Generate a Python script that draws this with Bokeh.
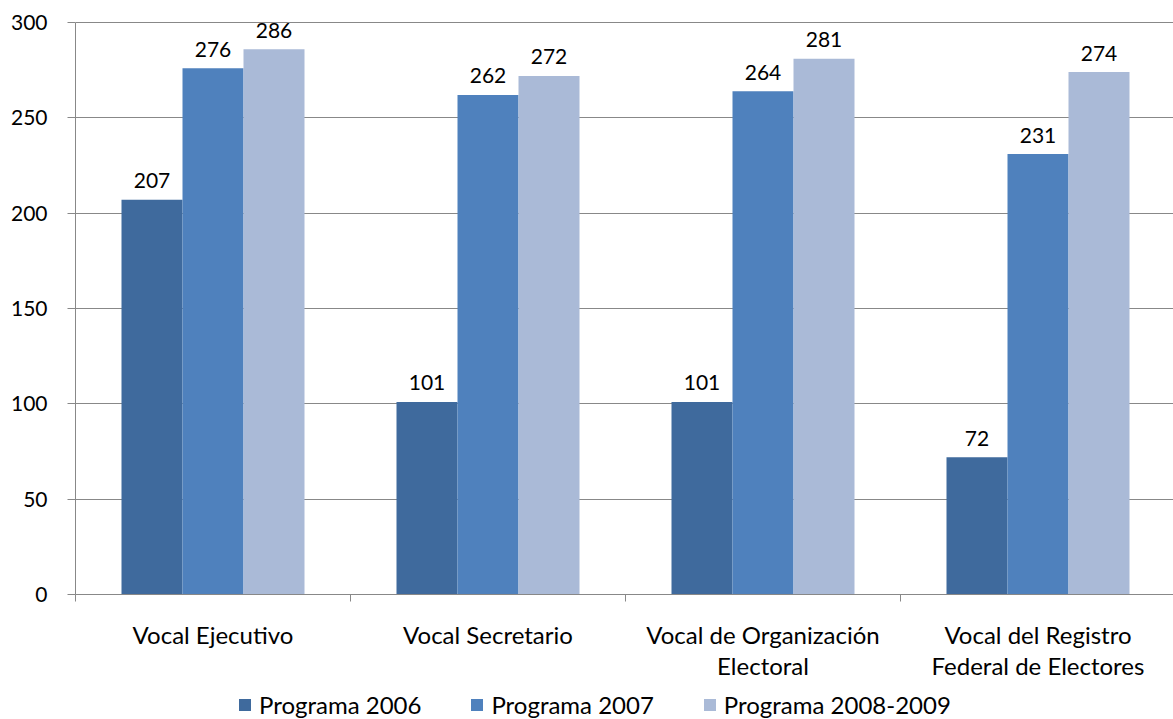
import numpy as np
from bokeh.plotting import figure
from bokeh.layouts import column
from bokeh.models import (ColumnDataSource, Range1d, FixedTicker, Legend, LegendItem,
                          LinearAxis)
from bokeh.core.properties import value
from bokeh.embed import file_html
from bokeh.resources import INLINE

categories = ["Vocal Ejecutivo", "Vocal Secretario",
              "Vocal de Organización\nElectoral", "Vocal del Registro\nFederal de Electores"]
series_names = ["Programa 2006", "Programa 2007", "Programa 2008-2009"]
p2006 = [207, 101, 101, 72]
p2007 = [276, 262, 264, 231]
p2008 = [286, 272, 281, 274]
y_ticks = [0, 50, 100, 150, 200, 250, 300]

colors = ["#3F6A9D", "#4F81BD", "#AABAD7"]
FONT = "Lato"
GRAY = "#888888"

W = 1173
H1 = 690
H2 = 29

p = figure(width=W, height=H1, output_backend="svg", toolbar_location=None,
           x_range=Range1d(0, 1098 / 275), y_range=Range1d(0, 305.77),
           min_border_left=75, min_border_right=0, min_border_top=11, min_border_bottom=H1 - 594,
           x_axis_location=None, y_axis_location=None)
p.outline_line_color = None
p.xgrid.visible = False

# y axis
yaxis = LinearAxis(ticker=FixedTicker(ticks=y_ticks), bounds=(0, 300))
yaxis.axis_line_color = GRAY
yaxis.major_tick_line_color = GRAY
yaxis.major_tick_out = 8
yaxis.major_tick_in = 0
yaxis.minor_tick_line_color = None
yaxis.major_label_text_font = FONT
yaxis.major_label_text_font_size = "21px"
yaxis.major_label_text_color = "#000000"
yaxis.major_label_standoff = 20
p.add_layout(yaxis, "left")

# x axis: category labels at centres, tick marks at category boundaries
idx = np.arange(len(categories))
centers = idx + 0.5
xaxis = LinearAxis(ticker=FixedTicker(ticks=list(centers),
                                      minor_ticks=list(np.arange(len(categories) + 1))))
xaxis.major_label_overrides = {float(c): lab for c, lab in zip(centers, categories)}
xaxis.axis_line_color = GRAY
xaxis.major_tick_line_color = None
xaxis.minor_tick_line_color = GRAY
xaxis.minor_tick_out = 7
xaxis.minor_tick_in = 0
xaxis.major_label_text_font = FONT
xaxis.major_label_text_font_size = "24px"
xaxis.major_label_text_color = "#000000"
xaxis.major_label_text_line_height = 1.1
xaxis.major_label_standoff = 18
p.add_layout(xaxis, "below")

p.ygrid.ticker = FixedTicker(ticks=y_ticks)
p.ygrid.grid_line_color = GRAY
p.ygrid.grid_line_width = 1

bw = 61 / 275
for k, (vals, col) in enumerate(zip([p2006, p2007, p2008], colors)):
    xs = centers + (k - 1) * bw
    src = ColumnDataSource(dict(x=xs, top=vals, lab=[str(v) for v in vals]))
    p.vbar(x="x", top="top", width=bw, bottom=0, source=src,
           fill_color=col, line_color=None)
    p.text(x="x", y="top", text="lab", source=src, text_align="center",
           text_baseline="alphabetic", y_offset=-19, text_font=value(FONT),
           text_font_size="21px", text_color="#000000")

# legend strip below the chart (swatch renderers sit outside the visible range)
lg = figure(width=W, height=H2, output_backend="svg", toolbar_location=None,
            x_range=Range1d(0, 1), y_range=Range1d(0, 1),
            min_border_left=0, min_border_right=0, min_border_top=0, min_border_bottom=0,
            x_axis_location=None, y_axis_location=None)
lg.outline_line_color = None
lg.grid.visible = False
items = []
for name, col in zip(series_names, colors):
    r = lg.vbar(x=[-10], top=[0], bottom=[0], width=0.1, fill_color=col, line_color=None)
    items.append(LegendItem(label=name, renderers=[r]))
legend = Legend(items=items, orientation="horizontal", location=(162, 0),
                label_text_font=FONT, label_text_font_size="24px", label_text_color="#000000",
                glyph_width=15, glyph_height=15, label_standoff=7, spacing=48,
                padding=0, margin=0, border_line_color=None, background_fill_alpha=0)
lg.add_layout(legend, "center")

layout = column(p, lg, spacing=0)
open("out.html", "w").write(file_html(layout, INLINE))
